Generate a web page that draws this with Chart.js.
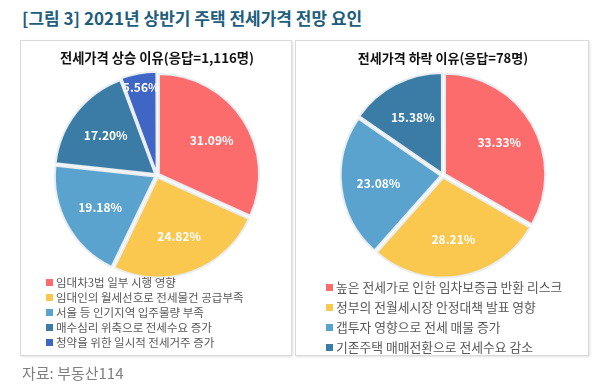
<!DOCTYPE html>
<html>
<head>
<meta charset="utf-8">
<script src="https://cdn.jsdelivr.net/npm/chart.js@4/dist/chart.umd.min.js"></script>
<style>
  body { margin: 0; width: 603px; height: 392px; background: #fff; position: relative; overflow: hidden;
         font-family: "Noto Sans CJK KR", sans-serif; }
  #title { position: absolute; left: 22px; top: 5px; font-size: 17px; font-weight: bold; color: #215d7c; white-space: nowrap; }
  .panel { position: absolute; top: 40px; height: 314px; border: 1px solid #dadada;
           box-shadow: 1px 1px 2px rgba(0,0,0,0.12); background: #fff; }
  .panel canvas { position: absolute; left: 0; top: 0; }
  .legend { position: absolute; list-style: none; margin: 0; padding: 0; color: #595959; }
  .legend li { white-space: nowrap; display: flex; align-items: center; }
  .legend span { display: inline-block; width: 7px; height: 7px; margin-right: 3px; flex: none; }
  #source { position: absolute; left: 22px; top: 362px; font-size: 15px; color: #808080; }
</style>
</head>
<body>
<div id="title">[그림 3] 2021년 상반기 주택 전세가격 전망 요인</div>

<div class="panel" style="left:20px;width:270px;">
  <div style="position:absolute;left:0;top:0;width:270px;height:250px;"><canvas id="upChart"></canvas></div>
  <ul class="legend" id="upLegend" style="left:25px;top:234px;font-size:11.5px;line-height:15px;"></ul>
</div>

<div class="panel" style="left:295px;width:292px;">
  <div style="position:absolute;left:0;top:0;width:292px;height:250px;"><canvas id="downChart"></canvas></div>
  <ul class="legend" id="downLegend" style="left:30px;top:236px;font-size:12.8px;line-height:20px;"></ul>
</div>

<div id="source">자료: 부동산114</div>

<script>
// 상승 이유 (응답=1,116명)
const upLabels = ['임대차3법 일부 시행 영향', '임대인의 월세선호로 전세물건 공급부족', '서울 등 인기지역 입주물량 부족',
                  '매수심리 위축으로 전세수요 증가', '청약을 위한 일시적 전세거주 증가'];
const upValues = [31.09, 24.82, 19.18, 17.20, 5.56];

// 하락 이유 (응답=78명)
const downLabels = ['높은 전세가로 인한 임차보증금 반환 리스크', '정부의 전월세시장 안정대책 발표 영향',
                    '갭투자 영향으로 전세 매물 증가', '기존주택 매매전환으로 전세수요 감소'];
const downValues = [33.33, 28.21, 23.08, 15.38];

const sliceColors = ['#fc6c6c', '#fac74f', '#5ba3cf', '#3a7ca6', '#3f66c4'];

Chart.defaults.font.family = '"Noto Sans CJK KR", sans-serif';

// percentage labels inside the slices
const pctLabels = {
    id: 'pctLabels',
    afterDatasetsDraw(chart) {
        const ctx = chart.ctx;
        const meta = chart.getDatasetMeta(0);
        const values = chart.data.datasets[0].data;
        const total = values.reduce((a, b) => a + b, 0);
        const offset = chart.data.datasets[0].offset || 0;
        ctx.save();
        ctx.font = 'bold 12px "Noto Sans CJK KR"';
        ctx.fillStyle = '#ffffff';
        ctx.textAlign = 'center';
        ctx.textBaseline = 'middle';
        meta.data.forEach((arc, i) => {
            const mid = (arc.startAngle + arc.endAngle) / 2;
            const frac = values[i] / total < 0.08 ? 0.8 : 0.56;
            const r = arc.outerRadius * frac + offset;
            ctx.fillText(values[i].toFixed(2) + '%', arc.x + Math.cos(mid) * r, arc.y + Math.sin(mid) * r);
        });
        ctx.restore();
    }
};

function makePie(id, legendId, title, titleSize, labels, values) {
    const ctx = document.getElementById(id).getContext('2d');
    const chart = new Chart(ctx, {
        type: 'pie',
        data: {
            labels: labels,
            datasets: [{
                data: values,
                backgroundColor: sliceColors.slice(0, values.length),
                borderColor: '#e9eef2',
                borderWidth: 2,
                offset: 9
            }]
        },
        options: {
            responsive: true,
            maintainAspectRatio: false,
            animation: false,
            radius: 100,
            layout: { padding: { left: 2, right: 0, top: 0, bottom: 14 } },
            plugins: {
                title: {
                    display: true,
                    text: title,
                    color: '#111',
                    font: { size: titleSize, weight: 'bold' },
                    padding: { top: 9, bottom: 8 }
                },
                legend: { display: false },
                tooltip: { enabled: false }
            }
        },
        plugins: [pctLabels]
    });

    // html legend, one item per row
    const items = chart.options.plugins.legend.labels.generateLabels(chart);
    const ul = document.getElementById(legendId);
    items.forEach(item => {
        const li = document.createElement('li');
        const box = document.createElement('span');
        box.style.background = item.fillStyle;
        li.appendChild(box);
        li.appendChild(document.createTextNode(item.text));
        ul.appendChild(li);
    });
}

makePie('upChart', 'upLegend', '전세가격 상승 이유(응답=1,116명)', 13.3, upLabels, upValues);
makePie('downChart', 'downLegend', '전세가격 하락 이유(응답=78명)', 13, downLabels, downValues);
</script>
</body>
</html>
